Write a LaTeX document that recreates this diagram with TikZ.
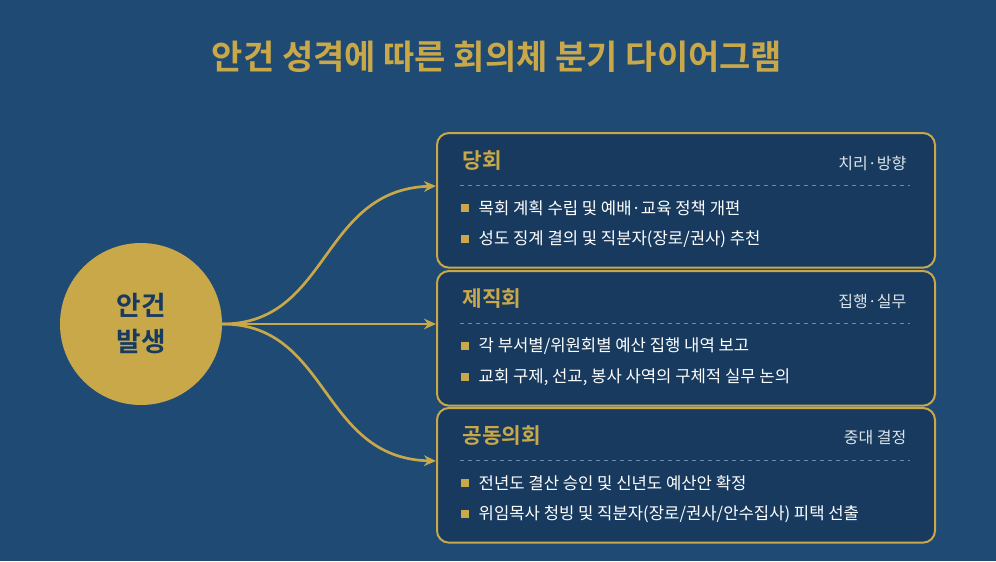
\documentclass[tikz,border=0pt]{standalone}
\usepackage{fontspec}
\setmainfont{Noto Sans CJK KR}
\newfontfamily\krbold{Noto Sans CJK KR Bold}
\usetikzlibrary{arrows.meta}
\definecolor{bgblue}{HTML}{1F4A73}
\definecolor{boxblue}{HTML}{173A5E}
\definecolor{gold}{HTML}{C9A84A}
\definecolor{lightline}{HTML}{6F8BA8}
\tikzset{
  panel/.style={draw=gold, line width=1.5pt, fill=boxblue, rounded corners=9pt,
    minimum width=373.5pt, minimum height=101pt, anchor=north west, inner sep=0pt},
  head/.style={anchor=west, text=gold, font=\krbold\fontsize{16}{19}\selectfont},
  tag/.style={anchor=east, text=white!85!bgblue, font=\fontsize{12}{14}\selectfont},
  item/.style={anchor=west, text=white, font=\fontsize{12.5}{15}\selectfont},
  bullet/.style={fill=gold, minimum size=5.5pt, inner sep=0pt},
  branch/.style={draw=gold, line width=2pt, -{Stealth[length=9pt,width=8pt]}},
}
\begin{document}
\begin{tikzpicture}[x=0.75pt, y=-0.75pt]
  \fill[bgblue] (0,0) rectangle (996,561);
  \useasboundingbox (0,0) rectangle (996,561);

  \node[text=gold, font=\krbold\fontsize{25.5}{30}\selectfont] (title) at (497,57)
    {안건 성격에 따른 회의체 분기 다이어그램};

  \node[circle, fill=gold, minimum size=121.5pt, inner sep=0pt, align=center,
    text=boxblue, font=\krbold\fontsize{20}{27}\selectfont] (issue) at (141,324)
    {안건\\발생};

  \foreach \n/\y/\h/\t/\a/\b in {
    dang/132/당회/치리·방향/{목회 계획 수립 및 예배·교육 정책 개편}/{성도 징계 결의 및 직분자(장로/권사) 추천},
    jejik/270/제직회/집행·실무/{각 부서별/위원회별 예산 집행 내역 보고}/{교회 구제, 선교, 봉사 사역의 구체적 실무 논의},
    gong/407/공동의회/중대 결정/{전년도 결산 승인 및 신년도 예산안 확정}/{위임목사 청빙 및 직분자(장로/권사/안수집사) 피택 선출}}
  {
    \node[panel] (\n) at (436,\y) {};
    \node[head] (\n-head) at (458,\y+29) {\h};
    \node[tag] (\n-tag) at (911,\y+31) {\t};
    \draw[lightline, dashed] (460,\y+53) -- (910,\y+53);
    \node[bullet] (\n-b1) at (465,\y+76) {};
    \node[item] (\n-i1) at (474,\y+76) {\a};
    \node[bullet] (\n-b2) at (465,\y+107) {};
    \node[item] (\n-i2) at (474,\y+107) {\b};
  }

  \coordinate (dang-in) at (436,186);
  \coordinate (jejik-in) at (436,324);
  \coordinate (gong-in) at (436,461);
  \draw[branch] (issue.east) .. controls (330,324) and (320,190) .. (dang-in);
  \draw[branch] (issue.east) -- (jejik-in);
  \draw[branch] (issue.east) .. controls (330,324) and (320,458) .. (gong-in);
\end{tikzpicture}
\end{document}
